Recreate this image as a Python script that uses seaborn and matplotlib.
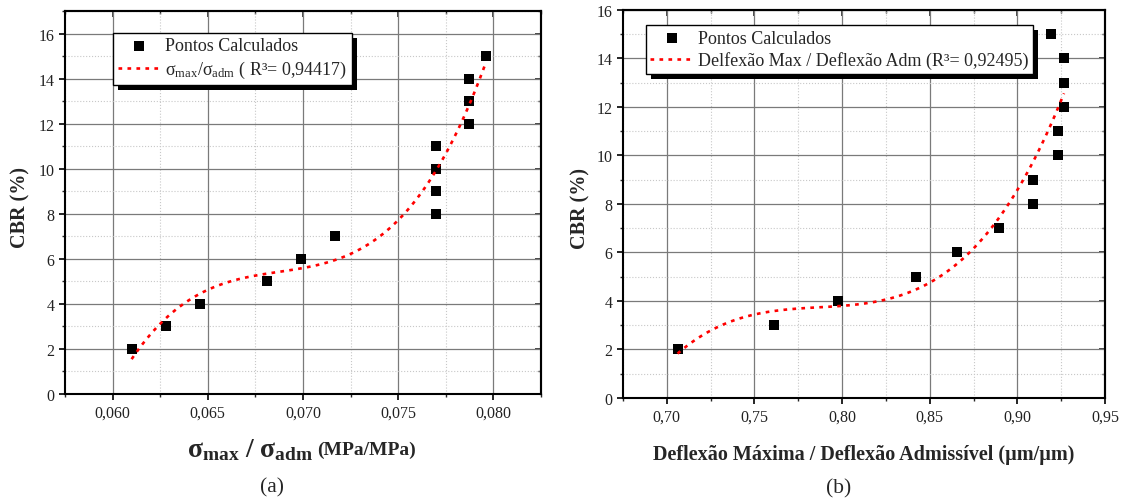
import numpy as np
import pandas as pd
import seaborn as sns
import matplotlib
matplotlib.use("Agg")
import matplotlib.pyplot as plt
from matplotlib.ticker import MultipleLocator, FuncFormatter
from matplotlib.patches import Rectangle
from matplotlib.transforms import IdentityTransform

# ---------------- data ----------------
sigma_ratio = [0.0610, 0.0628, 0.0646, 0.0681, 0.0699, 0.0717, 0.0770, 0.0770,
               0.0770, 0.0770, 0.0787, 0.0787, 0.0787, 0.0796]
cbr_a = [2, 3, 4, 5, 6, 7, 8, 9, 10, 11, 12, 13, 14, 15]

defl_ratio = [0.7061, 0.7611, 0.7979, 0.8422, 0.8657, 0.8893, 0.9088, 0.9088,
              0.9234, 0.9234, 0.9266, 0.9266, 0.9266, 0.9191]
cbr_b = [2, 3, 4, 5, 6, 7, 8, 9, 10, 11, 12, 13, 14, 15]

label_points = "Pontos Calculados"
label_fit_a = r"$σ_{max}/σ_{adm}$ ( R³= 0,94417)"
label_fit_b = "Delfexão Max / Deflexão Adm (R³= 0,92495)"
xlabel_a_main = r"$\mathbf{σ_{max}}\ \mathbf{/}\ \mathbf{σ_{adm}}$"
xlabel_a_unit = "(MPa/MPa)"
xlabel_b = "Deflexão Máxima / Deflexão Admissível (µm/µm)"
ylabel = "CBR (%)"

# ---------------- style ----------------
sns.set_style("white")
plt.rcParams["font.family"] = ["Liberation Serif", "DejaVu Serif"]
plt.rcParams["mathtext.fontset"] = "custom"
plt.rcParams["mathtext.rm"] = "Liberation Serif"
plt.rcParams["mathtext.it"] = "Liberation Serif:italic"
plt.rcParams["mathtext.bf"] = "Liberation Serif:bold"
plt.rcParams["mathtext.default"] = "regular"

fig = plt.figure(figsize=(11.24, 5.02), dpi=100)
ax1 = fig.add_axes([0.0578, 0.2131, 0.4235, 0.763])
ax2 = fig.add_axes([0.5543, 0.2052, 0.4288, 0.773])

dot_style = dict(color="red", linestyle=(0, (1.4, 2.0)), linewidth=1.9)


def style_axes(ax, xlim, ylim, xmaj, xmin, ndec):
    ax.set_xlim(*xlim)
    ax.set_ylim(*ylim)
    ax.xaxis.set_major_locator(MultipleLocator(xmaj))
    ax.xaxis.set_minor_locator(MultipleLocator(xmin))
    ax.yaxis.set_major_locator(MultipleLocator(2))
    ax.yaxis.set_minor_locator(MultipleLocator(1))
    ax.xaxis.set_major_formatter(FuncFormatter(lambda v, p: f"{v:.{ndec}f}".replace(".", ",")))
    ax.set_axisbelow(True)
    ax.grid(which="major", color="#7a7a7a", linewidth=0.9, linestyle="-")
    ax.grid(which="minor", color="#c8c8c8", linewidth=0.8, linestyle=":")
    for s in ax.spines.values():
        s.set_visible(True)
        s.set_color("black")
        s.set_linewidth(1.5)
    ax.tick_params(which="major", direction="out", length=4.5, width=1.2,
                   labelsize=11.5, colors="black", labelcolor="#222222", pad=3,
                   bottom=True, left=True)
    ax.tick_params(which="minor", direction="out", length=2.5, width=1.0,
                   bottom=True, left=True)
    # inward ticks on top and right
    sx = ax.secondary_xaxis("top")
    sx.xaxis.set_major_locator(MultipleLocator(xmaj))
    sx.xaxis.set_minor_locator(MultipleLocator(xmin))
    sx.tick_params(which="major", direction="in", length=4.5, width=1.2, labeltop=False)
    sx.tick_params(which="minor", direction="in", length=2.5, width=1.0)
    sx.spines["top"].set_linewidth(1.5)
    sy = ax.secondary_yaxis("right")
    sy.yaxis.set_major_locator(MultipleLocator(2))
    sy.yaxis.set_minor_locator(MultipleLocator(1))
    sy.tick_params(which="major", direction="in", length=4.5, width=1.2, labelright=False)
    sy.tick_params(which="minor", direction="in", length=2.5, width=1.0)
    sy.spines["right"].set_linewidth(1.5)


def draw_panel(ax, x, y, fit_label):
    df = pd.DataFrame({"x": x, "y": y})
    n_before = len(ax.lines)
    sns.regplot(data=df, x="x", y="y", order=3, ci=None, scatter=False,
                truncate=True, ax=ax, line_kws=dict(dot_style))
    fit_line = ax.lines[n_before]
    fit_line.set_label(fit_label)
    sns.scatterplot(data=df, x="x", y="y", marker="s", color="black", s=48,
                    edgecolor="black", linewidth=0, ax=ax, label=label_points, zorder=1.5)
    return fit_line


fit_a = draw_panel(ax1, sigma_ratio, cbr_a, label_fit_a)
fit_b = draw_panel(ax2, defl_ratio, cbr_b, label_fit_b)

style_axes(ax1, (0.0575, 0.0825), (0, 17), 0.005, 0.0025, 3)
style_axes(ax2, (0.675, 0.95), (0, 16), 0.05, 0.025, 2)

# y labels
for ax, ycoords in [(ax1, (-0.094, 0.49)), (ax2, (-0.089, 0.49))]:
    ax.set_ylabel(ylabel, fontsize=14.5, fontweight="bold")
    ax.yaxis.set_label_coords(*ycoords)
    ax.yaxis.label.set_va("center")

# x labels
ax1.set_xlabel("")
fig.text(313 / 1124, 1 - 457 / 502, xlabel_a_main, ha="right", va="baseline",
         fontsize=20, fontweight="bold")
fig.text(317 / 1124, 1 - 455 / 502, xlabel_a_unit, ha="left", va="baseline",
         fontsize=14, fontweight="bold")
ax2.set_xlabel(xlabel_b, fontsize=14.5, fontweight="bold")
ax2.xaxis.set_label_coords(0.5, -0.145)
ax2.xaxis.label.set_va("center")

fig.text(272 / 1124, 1 - 488 / 502, "(a)", ha="center", va="center", fontsize=15.5)
fig.text(839 / 1124, 1 - 489 / 502, "(b)", ha="center", va="center", fontsize=15.5)

# legends
legends = []
for ax, fit, lab, anchor in [(ax1, fit_a, label_fit_a, (0.101, 0.9426)),
                             (ax2, fit_b, label_fit_b, (0.047, 0.961))]:
    h, l = ax.get_legend_handles_labels()
    pts = h[l.index(label_points)]
    leg = ax.legend([pts, fit], [label_points, lab], loc="upper left",
                    bbox_to_anchor=anchor, frameon=True, fancybox=False,
                    edgecolor="black", framealpha=1, fontsize=13,
                    handlelength=2.4, handletextpad=0.25, borderpad=0.25,
                    labelspacing=0.25, borderaxespad=0)
    leg.get_frame().set_linewidth(1.0)
    legends.append((ax, leg))

fig.canvas.draw()
for ax, leg in legends:
    bb = leg.get_window_extent()
    sh = Rectangle((bb.x0 + 5, bb.y0 - 5), bb.width, bb.height,
                   transform=IdentityTransform(), facecolor="black",
                   edgecolor="none", zorder=4.5, clip_on=False)
    ax.add_artist(sh)

fig.savefig("out.png", dpi=100)
